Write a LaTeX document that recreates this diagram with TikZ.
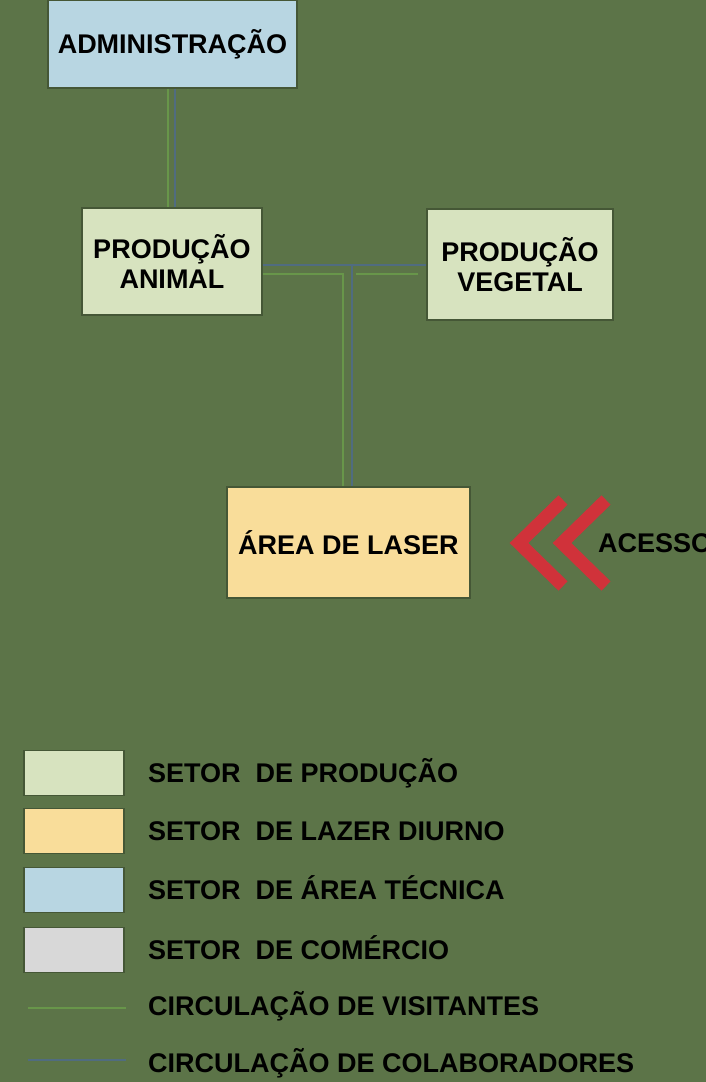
\documentclass[tikz,border=0pt]{standalone}
\usepackage{fontspec}
\setmainfont{Liberation Sans}
\definecolor{fundo}{RGB}{92,116,72}
\definecolor{producao}{RGB}{215,227,191}
\definecolor{lazer}{RGB}{249,221,154}
\definecolor{tecnica}{RGB}{184,214,226}
\definecolor{comercio}{RGB}{216,216,216}
\definecolor{visitante}{RGB}{104,150,74}
\definecolor{colaborador}{RGB}{80,108,128}
\definecolor{acesso}{RGB}{208,50,58}
\begin{document}
\begin{tikzpicture}[x=1pt, y=-1pt,
    setor/.style={draw=fundo!75!black, line width=1.2pt, inner sep=0pt, align=center,
        font=\fontsize{27}{30}\selectfont\bfseries},
    rotulo/.style={anchor=base west, inner sep=0pt, font=\fontsize{27}{30}\selectfont\bfseries},
    visita/.style={draw=visitante, line width=1.6pt},
    equipe/.style={draw=colaborador, line width=2.6pt},
    seta/.style={draw=acesso, line width=13pt, miter limit=10}]
        \useasboundingbox (0,0) rectangle (706,1082);
        \fill[fundo] (0,0) rectangle (706,1082);
        % Setores
        \node[setor, fill=tecnica, minimum width=249pt, minimum height=88pt] (admin) at (172.5,44) {ADMINISTRAÇÃO};
        \node[setor, fill=producao, minimum width=180pt, minimum height=107pt] (animal) at (172,261.5) {PRODUÇÃO\\ANIMAL};
        \node[setor, fill=producao, minimum width=186pt, minimum height=111pt] (vegetal) at (520,264.5) {PRODUÇÃO\\VEGETAL};
        \node[setor, fill=lazer, minimum width=243pt, minimum height=111pt] (laser) at (348.5,542.5) {ÁREA DE LASER};
        % Circulacao
        \coordinate (ag) at (168,150);
        \coordinate (ab) at (175,150);
        \coordinate (jg) at (343,274);
        \coordinate (jb) at (352,265);
        \coordinate (vg) at (356,274);
        \coordinate (vf) at (418,274);
        \draw[visita] (admin.south -| ag) -- (animal.north -| ag);
        \draw[equipe] (admin.south -| ab) -- (animal.north -| ab);
        \draw[visita] (animal.east |- jg) -- (jg) -- (laser.north -| jg);
        \draw[visita] (vg) -- (vf);
        \draw[equipe] (animal.east |- jb) -- (vegetal.west |- jb);
        \draw[equipe] (jb) -- (laser.north -| jb);
        % Acesso
        \draw[seta] (563,500) -- (519,543) -- (563,586);
        \draw[seta] (606,500) -- (562,543) -- (606,586);
        \node[rotulo] (acesso) at (598,552) {ACESSO};
        % Legenda
        \foreach \n/\y/\cor/\texto in {
            1/773/producao/SETOR\ \ DE PRODUÇÃO,
            2/831/lazer/SETOR\ \ DE LAZER DIURNO,
            3/890/tecnica/SETOR\ \ DE ÁREA TÉCNICA,
            4/950/comercio/SETOR\ \ DE COMÉRCIO
        } {
            \node[draw=fundo!75!black, line width=1.2pt, fill=\cor, minimum width=100pt, minimum height=45pt, inner sep=0pt] (amostra\n) at (74,\y) {};
            \node[rotulo] (legenda\n) at (148,\y+9) {\texto};
        }
        \node[rotulo] (legenda5) at (148,1015) {CIRCULAÇÃO DE VISITANTES};
        \node[rotulo] (legenda6) at (148,1072) {CIRCULAÇÃO DE COLABORADORES};
        \coordinate (lv) at (28,1008);
        \coordinate (lc) at (28,1060);
        \draw[visita] (lv) -- ++(98,0);
        \draw[equipe] (lc) -- ++(98,0);
    \end{tikzpicture}
\end{document}
